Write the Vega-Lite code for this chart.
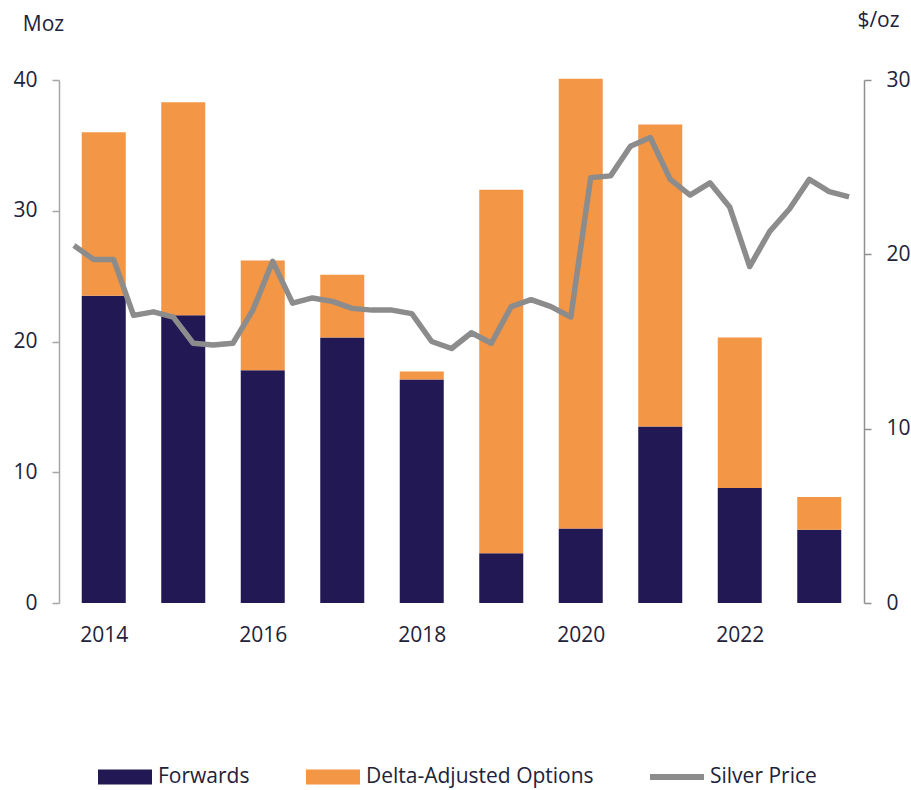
{
  "$schema": "https://vega.github.io/schema/vega-lite/v6.json",
  "autosize": {"type": "none"},
  "padding": {"left": 59, "top": 80, "right": 47, "bottom": 187},
  "width": 805,
  "height": 523,
  "background": "white",
  "config": {
    "font": "Open Sans",
    "view": {"stroke": null},
    "axis": {"labelFont": "Open Sans", "titleFont": "Open Sans", "labelColor": "#22223a", "titleColor": "#22223a", "labelFontSize": 21, "titleFontSize": 21, "titleFontWeight": "normal", "grid": false},
    "legend": {"labelFont": "Open Sans", "labelFontSize": 21, "labelColor": "#22223a", "labelLimit": 500}
  },
  "datasets": {
    "bars": [
      {"year": 2014, "series": "Forwards", "value": 23.5},
      {"year": 2014, "series": "Delta-Adjusted Options", "value": 12.5},
      {"year": 2015, "series": "Forwards", "value": 22.0},
      {"year": 2015, "series": "Delta-Adjusted Options", "value": 16.3},
      {"year": 2016, "series": "Forwards", "value": 17.8},
      {"year": 2016, "series": "Delta-Adjusted Options", "value": 8.4},
      {"year": 2017, "series": "Forwards", "value": 20.3},
      {"year": 2017, "series": "Delta-Adjusted Options", "value": 4.8},
      {"year": 2018, "series": "Forwards", "value": 17.1},
      {"year": 2018, "series": "Delta-Adjusted Options", "value": 0.6},
      {"year": 2019, "series": "Forwards", "value": 3.8},
      {"year": 2019, "series": "Delta-Adjusted Options", "value": 27.8},
      {"year": 2020, "series": "Forwards", "value": 5.7},
      {"year": 2020, "series": "Delta-Adjusted Options", "value": 34.4},
      {"year": 2021, "series": "Forwards", "value": 13.5},
      {"year": 2021, "series": "Delta-Adjusted Options", "value": 23.1},
      {"year": 2022, "series": "Forwards", "value": 8.8},
      {"year": 2022, "series": "Delta-Adjusted Options", "value": 11.5},
      {"year": 2023, "series": "Forwards", "value": 5.6},
      {"year": 2023, "series": "Delta-Adjusted Options", "value": 2.5}
    ],
    "price": [
      {"t": 2013.625, "price": 20.5}, {"t": 2013.875, "price": 19.7}, {"t": 2014.125, "price": 19.7}, {"t": 2014.375, "price": 16.5},
      {"t": 2014.625, "price": 16.7}, {"t": 2014.875, "price": 16.4}, {"t": 2015.125, "price": 14.9}, {"t": 2015.375, "price": 14.8},
      {"t": 2015.625, "price": 14.9}, {"t": 2015.875, "price": 16.8}, {"t": 2016.125, "price": 19.6}, {"t": 2016.375, "price": 17.2},
      {"t": 2016.625, "price": 17.5}, {"t": 2016.875, "price": 17.3}, {"t": 2017.125, "price": 16.9}, {"t": 2017.375, "price": 16.8},
      {"t": 2017.625, "price": 16.8}, {"t": 2017.875, "price": 16.6}, {"t": 2018.125, "price": 15.0}, {"t": 2018.375, "price": 14.6},
      {"t": 2018.625, "price": 15.5}, {"t": 2018.875, "price": 14.9}, {"t": 2019.125, "price": 17.0}, {"t": 2019.375, "price": 17.4},
      {"t": 2019.625, "price": 17.0}, {"t": 2019.875, "price": 16.4}, {"t": 2020.125, "price": 24.4}, {"t": 2020.375, "price": 24.5},
      {"t": 2020.625, "price": 26.2}, {"t": 2020.875, "price": 26.7}, {"t": 2021.125, "price": 24.3}, {"t": 2021.375, "price": 23.4},
      {"t": 2021.625, "price": 24.1}, {"t": 2021.875, "price": 22.7}, {"t": 2022.125, "price": 19.3}, {"t": 2022.375, "price": 21.3},
      {"t": 2022.625, "price": 22.6}, {"t": 2022.875, "price": 24.3}, {"t": 2023.125, "price": 23.6}, {"t": 2023.375, "price": 23.3}
    ]
  },
  "layer": [
    {
      "data": {"name": "bars"},
      "mark": {"type": "bar", "size": 44},
      "encoding": {
        "x": {
          "field": "year", "type": "quantitative",
          "scale": {"domain": [2013.5, 2023.5], "nice": false, "zero": false},
          "axis": {"values": [2014, 2016, 2018, 2020, 2022], "format": "d", "title": null, "ticks": false, "domain": false, "labelPadding": 21, "labelFlush": false}
        },
        "y": {
          "field": "value", "type": "quantitative", "stack": "zero",
          "scale": {"domain": [0, 40], "nice": false},
          "axis": {"orient": "left", "values": [0, 10, 20, 30, 40], "title": "Moz", "titleAngle": 0, "titleX": -16, "titleY": -56, "titleAlign": "center", "titleBaseline": "middle", "domainColor": "#a6a6a6", "domainWidth": 1.5, "tickColor": "#a6a6a6", "tickWidth": 1.5, "tickSize": 7, "labelPadding": 15}
        },
        "color": {
          "field": "series", "type": "nominal",
          "scale": {"domain": ["Forwards", "Delta-Adjusted Options", "Silver Price"], "range": ["#211854", "#F39646", "#8c8c8c"]},
          "legend": {
            "title": null, "orient": "none", "direction": "horizontal", "columns": 3,
            "legendX": 39, "legendY": 670, "columnPadding": 56, "labelOffset": 6,
            "symbolSize": 2916, "symbolStrokeWidth": 0,
            "encode": {"symbols": {"update": {"shape": {"signal": "datum.value === 'Silver Price' ? 'M-1,-0.11H1V0.11H-1Z' : 'M-1,-0.28H1V0.28H-1Z'"}, "strokeWidth": {"value": 0}}}}
          }
        },
        "order": {"field": "series", "sort": "descending"}
      }
    },
    {
      "data": {"name": "price"},
      "mark": {"type": "line", "color": "#8c8c8c", "strokeWidth": 5.5, "strokeJoin": "round"},
      "encoding": {
        "x": {"field": "t", "type": "quantitative"},
        "y": {
          "field": "price", "type": "quantitative",
          "scale": {"domain": [0, 30], "nice": false},
          "axis": {"orient": "right", "values": [0, 10, 20, 30], "title": "$/oz", "titleAngle": 0, "titleX": 14, "titleY": -60, "titleAlign": "center", "titleBaseline": "middle", "domainColor": "#909090", "domainWidth": 1.5, "tickColor": "#909090", "tickWidth": 1.5, "tickSize": 7, "labelPadding": 15}
        }
      }
    }
  ],
  "resolve": {"scale": {"y": "independent"}}
}
